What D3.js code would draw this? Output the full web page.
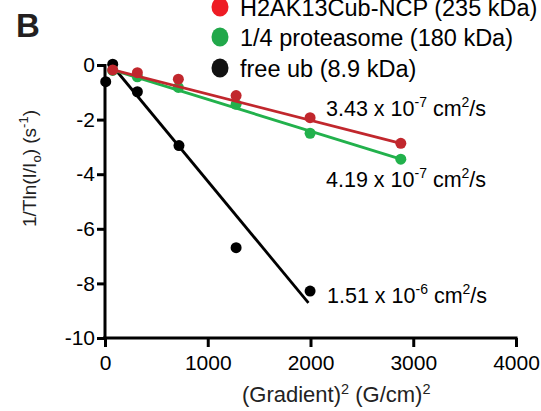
<!DOCTYPE html>
<html>
<head>
<meta charset="utf-8">
<script src="https://cdn.jsdelivr.net/npm/d3@7"></script>
<style>
  body { margin: 0; background: #fff; }
  svg { font-family: "Liberation Sans", Arial, sans-serif; }
</style>
</head>
<body>
<div id="chart"></div>
<script>
// data
const redX = [75, 315, 714, 1276, 1996, 2879];
const redY = [-0.18, -0.28, -0.52, -1.12, -1.93, -2.87];
const greenX = [75, 315, 714, 1276, 1996, 2879];
const greenY = [-0.2, -0.43, -0.82, -1.44, -2.5, -3.45];
const blackX = [7, 75, 315, 720, 1276, 1996];
const blackY = [-0.61, 0.03, -0.98, -2.95, -6.69, -8.28];

// fitted lines: [x start, x end, intercept, slope]
const redFit = [49, 2879, -0.103, -0.000961];
const greenFit = [49, 2879, -0.093, -0.001166];
const blackFit = [65, 1980, 0.296, -0.00455];

const xTicks = [0, 1000, 2000, 3000, 4000];
const yTicks = [0, -2, -4, -6, -8, -10];

const legendLabels = ["H2AK13Cub-NCP (235 kDa)", "1/4 proteasome (180 kDa)", "free ub (8.9 kDa)"];
const legendColors = ["#ee1c24", "#21a84a", "#111"];

const width = 541, height = 411;

const svg = d3.select("#chart").append("svg")
    .attr("width", width)
    .attr("height", height);

const x = d3.scaleLinear().domain([0, 4000]).range([105, 516]);
const y = d3.scaleLinear().domain([-10, 0]).range([338, 65]);

// panel letter
svg.append("text")
    .attr("x", 16).attr("y", 37)
    .attr("font-size", 33).attr("font-weight", "bold")
    .attr("fill", "#231f20")
    .text("B");

// axes
const fmt = d => String(d);
const xAxis = svg.append("g")
    .attr("transform", `translate(0,${y(-10)})`)
    .call(d3.axisBottom(x).tickValues(xTicks).tickFormat(fmt)
        .tickSize(9).tickSizeOuter(0).tickPadding(8));
const yAxis = svg.append("g")
    .attr("transform", `translate(${x(0)},0)`)
    .call(d3.axisLeft(y).tickValues(yTicks).tickFormat(fmt)
        .tickSize(8).tickSizeOuter(0).tickPadding(2));

[xAxis, yAxis].forEach(g => {
    g.select(".domain").attr("stroke", "#000").attr("stroke-width", 3);
    g.selectAll(".tick line").attr("stroke", "#000").attr("stroke-width", 3);
    g.selectAll(".tick text").attr("font-size", 21).attr("fill", "#000")
        .attr("font-family", "Liberation Sans, Arial, sans-serif");
});
xAxis.select(".domain").attr("d", `M${x(0) - 2},0H${x(4000) + 1.5}`);
yAxis.select(".domain").attr("d", `M0,${y(0) - 1}V${y(-10) + 1.5}`);

// series
function drawSeries(xs, ys, fit, color) {
    const g = svg.append("g");
    const line = d3.line().x(d => x(d[0])).y(d => y(d[1]));
    const [x0, x1, b, m] = fit;
    g.append("path")
        .datum([[x0, b + m * x0], [x1, b + m * x1]])
        .attr("d", line)
        .attr("fill", "none")
        .attr("stroke", color)
        .attr("stroke-width", 2.8);
    g.selectAll("circle")
        .data(d3.zip(xs, ys))
        .join("circle")
        .attr("cx", d => x(d[0]))
        .attr("cy", d => y(d[1]))
        .attr("r", 5.5)
        .attr("fill", color);
}

drawSeries(blackX, blackY, blackFit, "#000");
drawSeries(greenX, greenY, greenFit, "#22b14c");
drawSeries(redX, redY, redFit, "#c1272d");

// legend
const legend = svg.append("g");
const legendY = [7, 37, 68];
legendLabels.forEach((label, i) => {
    const cy = legendY[i];
    legend.append("ellipse")
        .attr("cx", 220).attr("cy", cy)
        .attr("rx", 8.5).attr("ry", 9.5)
        .attr("fill", legendColors[i]);
    legend.append("text")
        .attr("x", 240).attr("y", cy + 8.5)
        .attr("font-size", 23.5)
        .text(label);
});

// diffusion coefficient labels
function coeffLabel(xp, yp, mant, exp) {
    const t = svg.append("text")
        .attr("x", xp).attr("y", yp)
        .attr("font-size", 21.5);
    t.append("tspan").text(mant + " x 10");
    t.append("tspan").attr("dy", -9).attr("font-size", 14).text(exp);
    t.append("tspan").attr("dy", 9).text(" cm");
    t.append("tspan").attr("dy", -9).attr("font-size", 14).text("2");
    t.append("tspan").attr("dy", 9).text("/s");
}
coeffLabel(326, 116, "3.43", "-7");
coeffLabel(326, 187, "4.19", "-7");
coeffLabel(327, 303, "1.51", "-6");

// axis titles
const xt = svg.append("text")
    .attr("x", 242).attr("y", 402)
    .attr("font-size", 22).attr("fill", "#222");
xt.append("tspan").text("(Gradient)");
xt.append("tspan").attr("dy", -8).attr("font-size", 14.5).text("2");
xt.append("tspan").attr("dy", 8).text(" (G/cm)");
xt.append("tspan").attr("dy", -8).attr("font-size", 14.5).text("2");

const yt = svg.append("text")
    .attr("transform", "translate(36,227) rotate(-90)")
    .attr("font-size", 19).attr("fill", "#222");
yt.append("tspan").text("1/Tln(I/I");
yt.append("tspan").attr("dy", 5).attr("font-size", 13).text("o");
yt.append("tspan").attr("dy", -5).text(") (s");
yt.append("tspan").attr("dy", -8).attr("font-size", 13).text("-1");
yt.append("tspan").attr("dy", 8).text(")");
</script>
</body>
</html>
